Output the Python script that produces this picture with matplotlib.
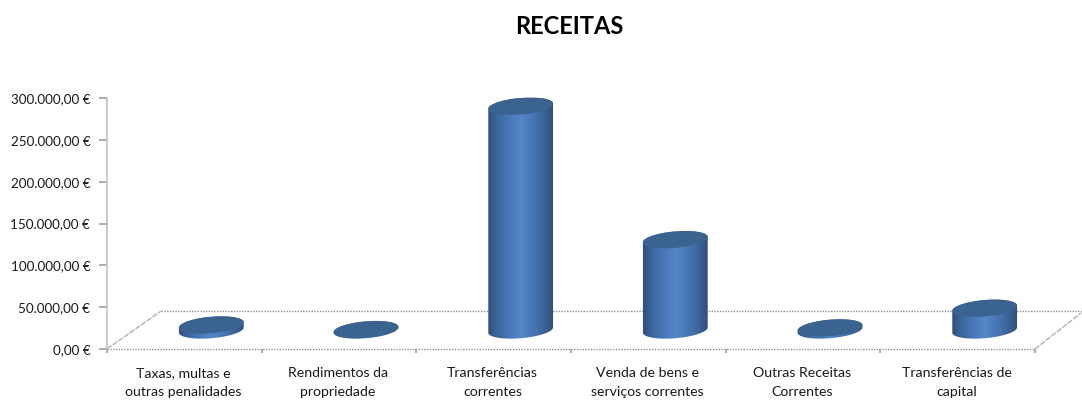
import numpy as np
import matplotlib
matplotlib.use("Agg")
import matplotlib.pyplot as plt
from matplotlib.colors import LinearSegmentedColormap
from matplotlib.patches import Polygon
from matplotlib.transforms import IdentityTransform

title = "RECEITAS"
categories = ["Taxas, multas e\noutras penalidades", "Rendimentos da\npropriedade",
              "Transferências\ncorrentes", "Venda de bens e\nserviços correntes",
              "Outras Receitas\nCorrentes", "Transferências de\ncapital"]
values = [6000, 500, 267500, 108000, 2500, 26000]
y_ticks = [0, 50000, 100000, 150000, 200000, 250000, 300000]

W, H = 1082, 401
plt.rcParams['font.family'] = ['Lato', 'DejaVu Sans']
fig = plt.figure(figsize=(W / 100, H / 100), dpi=100)
ax = fig.add_axes([107 / W, 1 - 349 / H, 928 / W, 251 / H])
ax.set_xlim(0, len(categories))
ax.set_ylim(0, 300000)
ax.patch.set_visible(False)

for s in ['top', 'right', 'bottom']:
    ax.spines[s].set_visible(False)
ax.spines['left'].set_color('#c0c0c0')
ax.spines['left'].set_linewidth(1.2)
ax.set_yticks(y_ticks)
ax.set_yticklabels([f"{v:,.2f} €".replace(',', 'X').replace('.', ',').replace('X', '.') for v in y_ticks],
                   fontsize=9.7, color='#1a1a1a')
ax.set_xticks(range(len(categories) + 1))
ax.set_xticklabels([])
ax.tick_params(axis='y', length=6, width=1.2, color='#a0a0a0', pad=6)
ax.tick_params(axis='x', length=3, width=1.2, color='#a0a0a0', direction='out')

for i, c in enumerate(categories):
    ax.annotate(c, (i + 0.5, 0), xytext=(-1, -18), textcoords='offset pixels',
                ha='center', va='top', fontsize=10.2, color='#1a1a1a', linespacing=1.7, annotation_clip=False)

fig.text(569 / W, 1 - 27 / H, title, ha='center', va='center', fontsize=17, fontweight='bold', color='black')

# 3D floor, expressed as a depth shift in pixels from the axis baseline
DEPTH_X, DEPTH_Y = 54, 38
fig.canvas.draw()
to_px = ax.transData.transform
(x0, y0), (x1, _) = to_px((0, 0)), to_px((len(categories), 0))
idt = IdentityTransform()
grey = dict(transform=idt, clip_on=False, zorder=1)
ax.plot([x0, x1], [y0, y0], color='#909090', lw=1, ls=(0, (1, 1)), **grey)
ax.plot([x0 + DEPTH_X, W], [y0 + DEPTH_Y, y0 + DEPTH_Y], color='#909090', lw=1, ls=(0, (1, 1)), **grey)
ax.plot([x0, x0 + DEPTH_X], [y0, y0 + DEPTH_Y], color='#b0b0b0', lw=1, ls=(0, (4, 1)), **grey)
ax.plot([x1, W - 1], [y0, y0 + DEPTH_Y - 2], color='#b0b0b0', lw=1, ls=(0, (4, 1)), **grey)

cmap = LinearSegmentedColormap.from_list('cyl', ['#2f4d78', '#3e6aa3', '#4a79b8', '#5586c9', '#4a79b8', '#3e679e', '#2f4f7c'])
A, B, TILT = 32.5, 8.2, np.deg2rad(5)


def ellipse(cx, cy, t):
    return (cx + A * np.cos(t) * np.cos(TILT) - B * np.sin(t) * np.sin(TILT),
            cy + A * np.cos(t) * np.sin(TILT) + B * np.sin(t) * np.cos(TILT))


t = np.linspace(0, 2 * np.pi, 241)[:-1]
for i, v in enumerate(values):
    cx, py = to_px((i + 0.5, v))
    cx += DEPTH_X / 2
    base = y0 + DEPTH_Y / 2
    top = py + DEPTH_Y / 2
    ex, ey = ellipse(cx, base, t)
    l, r = np.argmin(ex), np.argmax(ex)
    upper = np.roll(np.arange(240), -r)[: ((l - r) % 240) + 1]   # right to left over the top
    lower = np.roll(np.arange(240), -l)[: ((r - l) % 240) + 1]   # left to right under the bottom
    bx, by = ellipse(cx, base, t[lower])
    tx, ty = ellipse(cx, top, t[upper])
    body = Polygon(np.column_stack([np.r_[bx, tx], np.r_[by, ty]]), closed=True,
                   transform=idt, facecolor='none', edgecolor='none')
    ax.add_patch(body)
    im = ax.imshow(np.linspace(0, 1, 64).reshape(1, -1), cmap=cmap, aspect='auto', interpolation='bilinear',
                   extent=(cx - A - 1, cx + A + 1, base - 20, top + 20), transform=idt, zorder=3)
    im.set_clip_path(body)
    ax.add_patch(Polygon(np.column_stack(ellipse(cx, top, t)), closed=True, transform=idt,
                         facecolor='#3b638f', edgecolor='none', zorder=4, clip_on=False))

ax.set_xlim(0, len(categories))
ax.set_ylim(0, 300000)
fig.savefig('out.png', dpi=100)
